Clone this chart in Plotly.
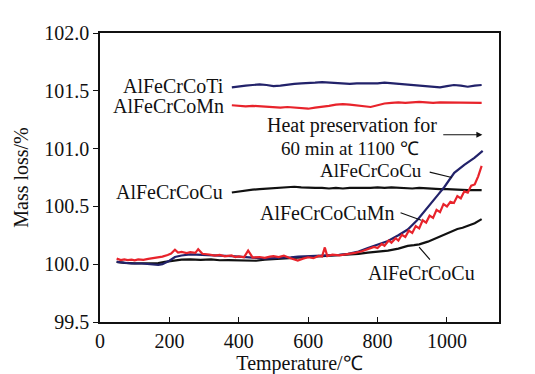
import plotly.graph_objects as go

# ---- data ----
t_flat = [380, 400, 420, 440, 460, 480, 500, 520, 540, 560, 580, 600, 620, 640, 660, 680, 700,
          720, 740, 760, 780, 800, 820, 840, 860, 880, 900, 920, 940, 960, 980, 1000, 1020,
          1040, 1060, 1080, 1100]
ti_vals = [101.53, 101.54, 101.545, 101.55, 101.555, 101.55, 101.54, 101.545, 101.555, 101.56,
           101.565, 101.565, 101.57, 101.575, 101.57, 101.565, 101.565, 101.56, 101.565, 101.565,
           101.56, 101.565, 101.57, 101.565, 101.56, 101.56, 101.555, 101.55, 101.545, 101.535,
           101.53, 101.54, 101.55, 101.545, 101.535, 101.545, 101.55]
mn_vals = [101.375, 101.37, 101.365, 101.37, 101.365, 101.36, 101.36, 101.355, 101.36, 101.355,
           101.35, 101.345, 101.355, 101.36, 101.37, 101.38, 101.385, 101.38, 101.375, 101.365,
           101.36, 101.375, 101.39, 101.395, 101.40, 101.395, 101.40, 101.405, 101.40, 101.395,
           101.40, 101.40, 101.395, 101.40, 101.395, 101.395, 101.395]
cu_hold_vals = [100.62, 100.63, 100.64, 100.645, 100.65, 100.655, 100.66, 100.665, 100.665, 100.67,
                100.665, 100.66, 100.66, 100.66, 100.655, 100.66, 100.655, 100.66, 100.66, 100.655,
                100.66, 100.665, 100.66, 100.665, 100.66, 100.66, 100.655, 100.66, 100.655, 100.655,
                100.65, 100.65, 100.645, 100.645, 100.64, 100.64, 100.64]

t_cu_up = [48, 70, 91, 120, 150, 168, 180, 200, 216, 235, 260, 283, 310, 331, 360, 379, 400, 427,
           450, 475, 500, 523, 550, 571, 600, 630, 657, 690, 715, 745, 772, 800, 830, 860, 887,
           914, 935, 954, 974, 993, 1021, 1050, 1079, 1103]
cu_up_vals = [100.02, 100.01, 100.006, 100.006, 100.0, 99.995, 100.0, 100.03, 100.062, 100.075,
              100.085, 100.083, 100.08, 100.076, 100.075, 100.07, 100.065, 100.062, 100.055,
              100.048, 100.05, 100.055, 100.06, 100.065, 100.068, 100.07, 100.075, 100.08, 100.09,
              100.11, 100.14, 100.17, 100.20, 100.25, 100.30, 100.38, 100.46, 100.53, 100.60,
              100.67, 100.79, 100.86, 100.92, 100.98]

t_cumn = [48, 60, 70, 80, 91, 100, 110, 125, 139, 150, 168, 180, 195, 205, 216, 225, 235, 250,
          260, 275, 283, 295, 315, 331, 345, 360, 379, 390, 400, 415, 427, 440, 460, 475, 490,
          500, 515, 530, 545, 560, 570, 585, 600, 615, 630, 640, 648, 655, 670, 690, 715, 735,
          755, 772, 790, 800, 812, 820, 832, 840, 852, 860, 870, 880, 890, 900, 910, 920, 930,
          940, 950, 960, 970, 980, 990, 1000, 1010, 1020, 1030, 1040, 1050, 1060, 1070, 1080,
          1090, 1100]
cumn_vals = [100.048, 100.035, 100.042, 100.036, 100.040, 100.034, 100.042, 100.038, 100.046,
             100.050, 100.058, 100.066, 100.080, 100.092, 100.125, 100.100, 100.106, 100.096,
             100.104, 100.098, 100.130, 100.090, 100.084, 100.074, 100.080, 100.068, 100.076,
             100.062, 100.068, 100.060, 100.118, 100.058, 100.062, 100.055, 100.066, 100.070,
             100.062, 100.074, 100.056, 100.045, 100.032, 100.048, 100.060, 100.052, 100.072,
             100.066, 100.145, 100.070, 100.082, 100.076, 100.086, 100.098, 100.112, 100.130,
             100.150, 100.140, 100.175, 100.160, 100.205, 100.185, 100.225, 100.205, 100.255,
             100.235, 100.290, 100.270, 100.330, 100.310, 100.380, 100.360, 100.420, 100.400,
             100.470, 100.450, 100.520, 100.500, 100.540, 100.530, 100.590, 100.570, 100.630,
             100.620, 100.680, 100.690, 100.760, 100.850]

t_cu_low = [48, 70, 100, 139, 168, 187, 216, 235, 260, 290, 320, 345, 370, 400, 427, 450, 475,
            500, 523, 550, 571, 600, 630, 657, 690, 715, 745, 772, 800, 830, 860, 887, 905, 920,
            945, 965, 980, 1002, 1015, 1030, 1045, 1060, 1080, 1100]
cu_low_vals = [100.02, 100.012, 100.008, 100.012, 100.01, 100.02, 100.034, 100.04, 100.042,
               100.038, 100.042, 100.034, 100.036, 100.034, 100.038, 100.03, 100.04, 100.044,
               100.048, 100.055, 100.060, 100.062, 100.066, 100.070, 100.075, 100.080, 100.090,
               100.100, 100.108, 100.118, 100.135, 100.158, 100.165, 100.172, 100.195, 100.220,
               100.240, 100.270, 100.285, 100.305, 100.315, 100.330, 100.355, 100.390]

x_ticks = [0, 200, 400, 600, 800, 1000]
y_ticks = [99.5, 100.0, 100.5, 101.0, 101.5, 102.0]
y_tick_text = ["99.5", "100.0", "100.5", "101.0", "101.5", "102.0"]

NAVY = "#22226a"
RED = "#e8232b"
BLACK = "#111111"
FONT = "Liberation Serif"

fig = go.Figure()
lw = 2.2
fig.add_trace(go.Scatter(x=t_flat, y=ti_vals, mode="lines", line=dict(color=NAVY, width=lw)))
fig.add_trace(go.Scatter(x=t_flat, y=mn_vals, mode="lines", line=dict(color=RED, width=lw)))
fig.add_trace(go.Scatter(x=t_flat, y=cu_hold_vals, mode="lines", line=dict(color=BLACK, width=lw)))
fig.add_trace(go.Scatter(x=t_cu_low, y=cu_low_vals, mode="lines", line=dict(color=BLACK, width=lw)))
fig.add_trace(go.Scatter(x=t_cu_up, y=cu_up_vals, mode="lines", line=dict(color=NAVY, width=lw)))
fig.add_trace(go.Scatter(x=t_cumn, y=cumn_vals, mode="lines", line=dict(color=RED, width=lw)))

fs = 20
txt = dict(family=FONT, size=fs, color="#111111")
ann = []
def label(text, x, y, xanchor="center", size=fs):
    ann.append(dict(text=text, x=x, y=y, xref="x", yref="y", showarrow=False,
                    xanchor=xanchor, yanchor="middle",
                    font=dict(family=FONT, size=size, color="#111111")))
def leader(x, y, ax, ay, head=0):
    ann.append(dict(text="", x=x, y=y, ax=ax, ay=ay, xref="x", yref="y", axref="x", ayref="y",
                    showarrow=True, arrowhead=head, arrowwidth=1.2, arrowcolor="#111111",
                    arrowsize=1.0))

label("AlFeCrCoTi", 362, 101.545, "right")
label("AlFeCrCoMn", 362, 101.37, "right")
label("AlFeCrCoCu", 360, 100.625, "right")
label("Heat preservation for", 725, 101.20)
label("60 min at 1100 ℃", 720, 101.005, size=19)
label("AlFeCrCoCu", 782, 100.81, size=19)
label("AlFeCrCoCuMn", 654, 100.44)
label("AlFeCrCoCu", 928, 99.92)
leader(1102, 101.12, 985, 101.12, head=2)
leader(1014, 100.75, 946, 100.80)
leader(926, 100.38, 862, 100.45)
leader(951, 100.04, 916, 100.16)

fig.update_layout(
    width=535, height=374,
    margin=dict(l=92, r=44, t=25, b=52),
    paper_bgcolor="white", plot_bgcolor="white",
    showlegend=False,
    font=dict(family=FONT, size=fs, color="#111111"),
    annotations=ann,
)
fig.update_xaxes(range=[0, 1150], tickvals=x_ticks, ticks="inside", ticklen=5, tickwidth=1.2,
                 tickcolor="#111111", showline=True, linecolor="#111111", linewidth=1.5,
                 mirror=True, showgrid=False, zeroline=False,
                 title=dict(text="Temperature/℃", font=dict(family=FONT, size=fs), standoff=4),
                 tickfont=dict(family=FONT, size=fs))
fig.update_yaxes(range=[99.5, 102.0], tickvals=y_ticks, ticktext=y_tick_text, ticks="outside",
                 ticklen=5, tickwidth=1.2, tickcolor="#111111", showline=True,
                 linecolor="#111111", linewidth=1.5, mirror=True, showgrid=False, zeroline=False,
                 title=dict(text="Mass loss/%", font=dict(family=FONT, size=fs), standoff=10),
                 tickfont=dict(family=FONT, size=fs))

fig.write_html("out.html")
